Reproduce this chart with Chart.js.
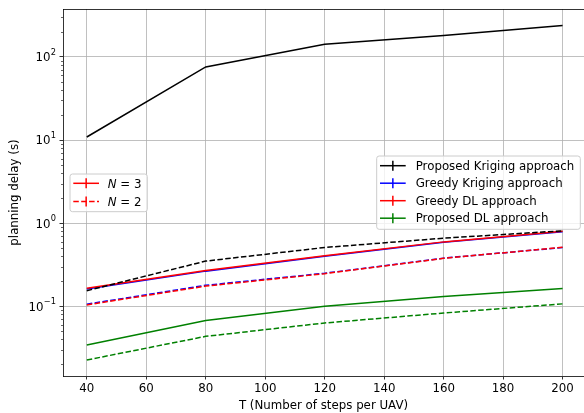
<!DOCTYPE html>
<html>
<head>
<meta charset="utf-8">
<script src="https://cdn.jsdelivr.net/npm/chart.js@4/dist/chart.umd.min.js"></script>
<style>
  html, body { margin: 0; padding: 0; background: #fff; overflow: hidden; }
  canvas { display: block; }
</style>
</head>
<body>
<canvas id="c" width="584" height="413"></canvas>
<script>
// Planning delay (s) versus T, the number of steps per UAV
const steps = [40, 80, 120, 160, 200];

// N = 3 (solid lines)
const proposedKrigingN3 = [10.9, 76, 142, 181, 240];
const greedyKrigingN3   = [0.162, 0.265, 0.400, 0.590, 0.790];
const greedyDLN3        = [0.165, 0.269, 0.405, 0.596, 0.800];
const proposedDLN3      = [0.0343, 0.0675, 0.100, 0.131, 0.164];

// N = 2 (dashed lines)
const proposedKrigingN2 = [0.154, 0.350, 0.510, 0.660, 0.810];
const greedyKrigingN2   = [0.106, 0.179, 0.250, 0.380, 0.510];
const greedyDLN2        = [0.104, 0.175, 0.247, 0.378, 0.513];
const proposedDLN2      = [0.0226, 0.0435, 0.063, 0.083, 0.107];

const methodNames  = ['Proposed Kriging approach', 'Greedy Kriging approach', 'Greedy DL approach', 'Proposed DL approach'];
const methodColors = ['#000000', '#0000ff', '#ff0000', '#008000'];
const nValues = ['3', '2'];

const xTickValues = [40, 60, 80, 100, 120, 140, 160, 180, 200];
const xTickLabels = ['40', '60', '80', '100', '120', '140', '160', '180', '200'];
const yTickValues = [0.1, 1, 10, 100];
const yTickExponents = ['\u22121', '0', '1', '2'];

const xTitle = 'T (Number of steps per UAV)';
const yTitle = 'planning delay (s)';

const FONT = 'DejaVu Sans';
const FS = 11.8;
const DASH = [5.5, 2.4];

const seriesN3 = [proposedKrigingN3, greedyKrigingN3, greedyDLN3, proposedDLN3];
const seriesN2 = [proposedKrigingN2, greedyKrigingN2, greedyDLN2, proposedDLN2];

// later-plotted series sit on top (lower "order" draws last in Chart.js)
const datasets = [];
let plotIndex = 0;
[seriesN3, seriesN2].forEach((group, g) => {
  group.forEach((vals, m) => {
    datasets.push({
      label: methodNames[m] + ' N=' + nValues[g],
      data: steps.map((t, i) => ({ x: t, y: vals[i] })),
      borderColor: methodColors[m],
      backgroundColor: methodColors[m],
      borderWidth: 1.5,
      borderDash: g === 0 ? [] : DASH,
      pointRadius: 0,
      pointHoverRadius: 0,
      tension: 0,
      fill: false,
      order: 100 - plotIndex
    });
    plotIndex++;
  });
});

function drawHandle(ctx, x0, x1, yRow, color, dashed) {
  ctx.save();
  ctx.strokeStyle = color;
  ctx.lineWidth = 1.5;
  ctx.setLineDash(dashed ? DASH : []);
  ctx.beginPath();
  ctx.moveTo(x0, yRow);
  ctx.lineTo(x1, yRow);
  ctx.stroke();
  ctx.setLineDash([]);
  const xc = (x0 + x1) / 2;
  ctx.beginPath();
  ctx.moveTo(xc, yRow - 5);
  ctx.lineTo(xc, yRow + 5);
  ctx.stroke();
  ctx.restore();
}

function legendBox(ctx, x, y, w, h) {
  const r = 2.5;
  ctx.save();
  ctx.beginPath();
  ctx.moveTo(x + r, y);
  ctx.lineTo(x + w - r, y);
  ctx.quadraticCurveTo(x + w, y, x + w, y + r);
  ctx.lineTo(x + w, y + h - r);
  ctx.quadraticCurveTo(x + w, y + h, x + w - r, y + h);
  ctx.lineTo(x + r, y + h);
  ctx.quadraticCurveTo(x, y + h, x, y + h - r);
  ctx.lineTo(x, y + r);
  ctx.quadraticCurveTo(x, y, x + r, y);
  ctx.closePath();
  ctx.fillStyle = 'rgba(255,255,255,0.8)';
  ctx.fill();
  ctx.strokeStyle = '#cccccc';
  ctx.lineWidth = 1;
  ctx.stroke();
  ctx.restore();
}

const decor = {
  id: 'decor',
  afterDraw(chart) {
    const { ctx, chartArea: a, scales: { y } } = chart;
    ctx.save();

    // top spine
    ctx.strokeStyle = '#000';
    ctx.lineWidth = 0.8;
    ctx.beginPath();
    ctx.moveTo(a.left, Math.round(a.top) + 0.5);
    ctx.lineTo(a.right, Math.round(a.top) + 0.5);
    ctx.stroke();

    // minor ticks on the log axis
    ctx.lineWidth = 0.6;
    for (let e = -2; e <= 2; e++) {
      for (let k = 2; k <= 9; k++) {
        const v = k * Math.pow(10, e);
        if (v < y.min || v > y.max) continue;
        const py = Math.round(y.getPixelForValue(v)) + 0.5;
        ctx.beginPath();
        ctx.moveTo(a.left, py);
        ctx.lineTo(a.left - 2, py);
        ctx.stroke();
      }
    }

    // decade labels 10^k
    ctx.fillStyle = '#000';
    ctx.textBaseline = 'alphabetic';
    const right = a.left - 7;
    yTickValues.forEach((v, i) => {
      const py = y.getPixelForValue(v);
      ctx.font = (FS * 0.7) + 'px "' + FONT + '"';
      const ew = ctx.measureText(yTickExponents[i]).width;
      ctx.textAlign = 'left';
      ctx.fillText(yTickExponents[i], right - ew, py - 2.4);
      ctx.font = FS + 'px "' + FONT + '"';
      ctx.textAlign = 'right';
      ctx.fillText('10', right - ew - 0.3, py + 4.3);
    });

    // legend for N
    legendBox(ctx, 70, 174, 77.3, 37.7);
    const nRows = [183.3, 201.5];
    nRows.forEach((ry, i) => {
      drawHandle(ctx, 73.3, 99, ry, '#ff0000', i === 1);
      ctx.fillStyle = '#000';
      ctx.textAlign = 'left';
      ctx.font = 'italic ' + FS + 'px "' + FONT + '"';
      ctx.fillText('N', 107.7, ry + 4.2);
      const nw = ctx.measureText('N').width;
      ctx.font = FS + 'px "' + FONT + '"';
      ctx.fillText(' = ' + nValues[i], 107.7 + nw, ry + 4.2);
    });

    // legend for methods
    legendBox(ctx, 376.7, 156, 203.6, 73.3);
    const mRows = [165.7, 183.2, 200.7, 218.2];
    mRows.forEach((ry, i) => {
      drawHandle(ctx, 380, 405.7, ry, methodColors[i], false);
      ctx.fillStyle = '#000';
      ctx.textAlign = 'left';
      ctx.font = FS + 'px "' + FONT + '"';
      ctx.fillText(methodNames[i], 415.7, ry + 4);
    });

    ctx.restore();
  }
};

new Chart(document.getElementById('c'), {
  type: 'line',
  data: { datasets },
  options: {
    responsive: false,
    animation: false,
    devicePixelRatio: 1,
    events: [],
    layout: { padding: { left: 0, top: 9, right: 0, bottom: 0 } },
    plugins: { legend: { display: false }, tooltip: { enabled: false } },
    scales: {
      x: {
        type: 'linear',
        min: 32,
        max: 207.2,
        afterBuildTicks: s => { s.ticks = xTickValues.map(v => ({ value: v })); },
        afterFit: s => { s.height = 37; },
        ticks: {
          callback: (v) => xTickLabels[xTickValues.indexOf(v)],
          color: '#000',
          font: { family: FONT, size: FS },
          padding: 2.5,
          maxRotation: 0,
          autoSkip: false
        },
        grid: { color: '#b0b0b0', lineWidth: 0.8, tickColor: '#000', tickLength: 3.5, tickWidth: 0.8 },
        border: { color: '#000', width: 0.8 },
        title: { display: true, text: xTitle, color: '#000', font: { family: FONT, size: FS }, padding: { top: 0, bottom: 0.3 } }
      },
      y: {
        type: 'logarithmic',
        min: 0.0145,
        max: 378,
        afterBuildTicks: s => { s.ticks = yTickValues.map(v => ({ value: v })); },
        afterFit: s => { s.width = 63; },
        ticks: { display: false },
        grid: { color: '#b0b0b0', lineWidth: 0.8, tickColor: '#000', tickLength: 3.5, tickWidth: 0.8 },
        border: { color: '#000', width: 0.8 },
        title: { display: true, text: yTitle, color: '#000', font: { family: FONT, size: FS }, padding: { top: 8, bottom: 0 } }
      }
    }
  },
  plugins: [decor]
});
</script>
</body>
</html>
